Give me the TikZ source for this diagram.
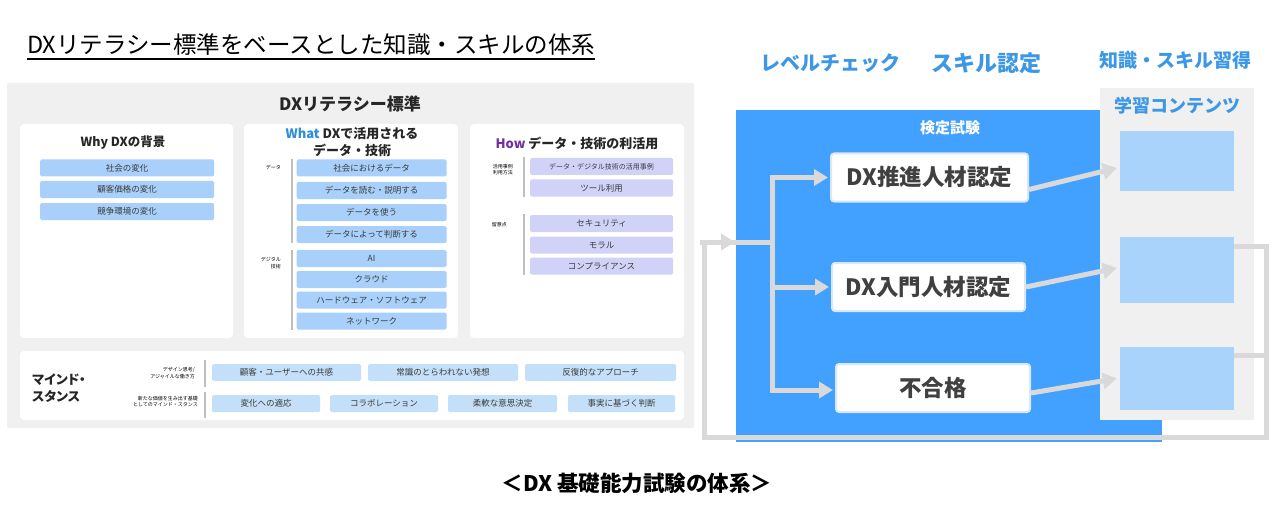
\documentclass[tikz,border=0pt]{standalone}
\usepackage{fontspec}
\setmainfont{Noto Sans CJK JP}
\usetikzlibrary{arrows.meta}
\definecolor{panelgray}{HTML}{F0F0F0}
\definecolor{itemblue}{HTML}{A8D0FA}
\definecolor{itemlav}{HTML}{D0D2F8}
\definecolor{mindblue}{HTML}{C4DFF8}
\definecolor{bigblue}{HTML}{42A0FF}
\definecolor{headblue}{HTML}{3C98E6}
\definecolor{whatblue}{HTML}{2E8ED8}
\definecolor{howpurple}{HTML}{7030A0}
\definecolor{contblue}{HTML}{A9D3FA}
\definecolor{arrowgray}{HTML}{D9D9D9}
\definecolor{bargray}{HTML}{BFBFBF}
\definecolor{itemtext}{HTML}{3A3A3A}
\definecolor{headtext}{HTML}{262626}
\definecolor{resultedge}{HTML}{D8E8F8}
\definecolor{resulttext}{HTML}{404040}
\tikzset{
  item/.style={rectangle, fill=itemblue, rounded corners=1.5pt, minimum height=17pt, inner sep=0pt, text=itemtext, font=\fontsize{8.5}{10}\selectfont},
  lavitem/.style={item, fill=itemlav},
  minditem/.style={item, fill=mindblue},
  card/.style={rectangle, fill=white, rounded corners=4pt, inner sep=0pt},
  tinylabel/.style={font=\fontsize{5}{6.2}\selectfont, align=right, text=black, inner sep=0pt, anchor=east},
  bar/.style={draw=bargray, line width=1.3pt},
  conn/.style={draw=arrowgray, line width=5pt},
  tipconn/.style={conn, -{Triangle[length=14pt,width=16pt]}},
  result/.style={rectangle, fill=white, draw=resultedge, line width=2pt, rounded corners=3pt, inner sep=0pt, text=resulttext, font=\fontsize{22.5}{22.5}\selectfont\bfseries},
  contbox/.style={rectangle, fill=contblue, inner sep=0pt},
  head/.style={text=headblue, font=\fontsize{20}{20}\selectfont\bfseries, inner sep=0pt},
  cardtitle/.style={text=headtext, inner sep=0pt, align=center},
}
\begin{document}
\begin{tikzpicture}[x=1pt,y=-1pt]
\useasboundingbox (0,0) rectangle (1275,508);
\fill[white] (0,0) rectangle (1275,508);

% ---------- title ----------
\node[anchor=west, inner sep=0pt, font=\fontsize{23.5}{23.5}\selectfont, text=black] (title) at (27,45) {DXリテラシー標準をベースとした知識・スキルの体系};
\draw[line width=1.2pt] ([yshift=-5pt]title.base west) -- ([yshift=-5pt]title.base east);

% ---------- left panel ----------
\node[rectangle, fill=panelgray, rounded corners=2pt, minimum width=687pt, minimum height=345pt, inner sep=0pt] (panel) at (350.5,255.5) {};
\node[cardtitle, font=\fontsize{17}{17}\selectfont\bfseries] (paneltitle) at (350,104) {DXリテラシー標準};

\node[card, minimum width=213pt, minimum height=214pt] (whycard) at (126.5,231) {};
\node[card, minimum width=214pt, minimum height=214pt] (whatcard) at (351,231) {};
\node[card, minimum width=214pt, minimum height=214pt] (howcard) at (577,231) {};
\node[card, minimum width=664pt, minimum height=69pt] (mindcard) at (352,385.5) {};

% Why
\node[cardtitle, font=\fontsize{12.5}{12.5}\selectfont\bfseries] (whyT) at (123,143) {Why DXの背景};
\node[item, minimum width=174pt] (w1) at (127,168) {社会の変化};
\node[item, minimum width=174pt] (w2) at (127,189.5) {顧客価格の変化};
\node[item, minimum width=174pt] (w3) at (127,211.5) {競争環境の変化};

% What
\node[cardtitle, font=\fontsize{13}{17}\selectfont\bfseries] (whatT) at (352,142.5) {\textcolor{whatblue}{What} DXで活用される\\データ・技術};
\node[tinylabel] (lData) at (281,168) {データ};
\node[tinylabel] (lDig) at (281,263) {デジタル\\技術};
\draw[bar] (292,159) -- (292,243);
\draw[bar] (292,250) -- (292,330);
\node[item, minimum width=150pt] (d1) at (371.5,168) {社会におけるデータ};
\node[item, minimum width=150pt] (d2) at (371.5,190.5) {データを読む・説明する};
\node[item, minimum width=150pt] (d3) at (371.5,212.5) {データを使う};
\node[item, minimum width=150pt] (d4) at (371.5,234.5) {データによって判断する};
\node[item, minimum width=150pt] (t1) at (371.5,258.5) {AI};
\node[item, minimum width=150pt] (t2) at (371.5,279.5) {クラウド};
\node[item, minimum width=150pt] (t3) at (371.5,300) {ハードウェア・ソフトウェア};
\node[item, minimum width=150pt] (t4) at (371.5,321) {ネットワーク};

% How
\node[cardtitle, font=\fontsize{13}{13}\selectfont\bfseries] (howT) at (577,143) {\textcolor{howpurple}{How} データ・技術の利活用};
\node[tinylabel] (lUse) at (513,170) {活用事例\\利用方法};
\node[tinylabel] (lCare) at (507,225) {留意点};
\draw[bar] (524,157) -- (524,197);
\draw[bar] (524,214) -- (524,275);
\node[lavitem, minimum width=143pt, font=\fontsize{7}{8}\selectfont] (h1) at (601.5,166.5) {データ・デジタル技術の活用事例};
\node[lavitem, minimum width=143pt] (h2) at (601.5,188) {ツール利用};
\node[lavitem, minimum width=143pt] (h3) at (601.5,223.5) {セキュリティ};
\node[lavitem, minimum width=143pt] (h4) at (601.5,245) {モラル};
\node[lavitem, minimum width=143pt] (h5) at (601.5,266) {コンプライアンス};

% Mind / stance
\node[cardtitle, font=\fontsize{13}{17}\selectfont\bfseries\addfontfeature{RawFeature=+palt}, align=left, anchor=west] (mindT) at (32,388) {マインド・\\スタンス};
\node[tinylabel] (lDesign) at (195,373) {デザイン思考/\\アジャイルな働き方};
\node[tinylabel] (lNew) at (198,401.5) {新たな価値を生み出す基礎\\としてのマインド・スタンス};
\draw[bar] (205,360) -- (205,387);
\draw[bar] (205,392) -- (205,418);
\node[minditem, minimum width=149pt] (m1) at (286.5,372.5) {顧客・ユーザーへの共感};
\node[minditem, minimum width=150pt] (m2) at (443,372.5) {常識のとらわれない発想};
\node[minditem, minimum width=151pt] (m3) at (600.5,372.5) {反復的なアプローチ};
\node[minditem, minimum width=108pt] (s1) at (266,403.5) {変化への適応};
\node[minditem, minimum width=108pt] (s2) at (384,403.5) {コラボレーション};
\node[minditem, minimum width=109pt] (s3) at (502.5,403.5) {柔軟な意思決定};
\node[minditem, minimum width=107pt] (s4) at (621.5,403.5) {事実に基づく判断};

% ---------- right part ----------
\node[head] (hLevel) at (830,63) {レベルチェック};
\node[head, font=\fontsize{22}{22}\selectfont\bfseries] (hSkill) at (986,63) {スキル認定};
\node[head, font=\fontsize{19}{19}\selectfont\bfseries] (hKnow) at (1175,60) {知識・スキル習得};

\node[rectangle, fill=bigblue, inner sep=0pt, minimum width=426pt, minimum height=332pt] (exam) at (949,276) {};
\node[text=white, font=\fontsize{15}{15}\selectfont\bfseries, inner sep=0pt] (examT) at (950,128) {検定試験};

\node[rectangle, fill=panelgray, inner sep=0pt, minimum width=154pt, minimum height=332pt] (contpanel) at (1177,254) {};
\node[head, font=\fontsize{18}{18}\selectfont\bfseries] (contT) at (1177,106) {学習コンテンツ};
\node[contbox, minimum width=114pt, minimum height=60pt] (c1) at (1177,161) {};
\node[contbox, minimum width=114pt, minimum height=66pt] (c2) at (1177,270) {};
\node[contbox, minimum width=114pt, minimum height=63pt] (c3) at (1177,378.5) {};

\node[result, minimum width=197pt, minimum height=48pt] (n1) at (929.5,177.5) {DX推進人材認定};
\node[result, minimum width=193pt, minimum height=48pt] (n2) at (928.5,287) {DX入門人材認定};
\node[result, minimum width=194pt, minimum height=48pt] (n3) at (933,388) {不合格};

% connectors
\coordinate (tTop) at (772,177.5);
\coordinate (tMid) at (772,242);
\coordinate (tBot) at (772,390);
\coordinate (lTop) at (704,242);
\coordinate (entryTip) at (735,242);
\coordinate (lBot) at (704,437);
\coordinate (rBot) at (1266,437);
\coordinate (rTop) at (1266,246);
\coordinate (rStub) at (1266,355);

\draw[conn] ([yshift=24pt]c2.east) -- (rTop) -- (rBot) -- (lBot) -- (lTop) -- (tMid);
\draw[conn] ([yshift=23.5pt]c3.east) -- (rStub);
\draw[tipconn] ([xshift=-4pt]lTop) -- (entryTip);
\draw[conn] ([yshift=2.5pt]tTop) -- ([yshift=-2.5pt]tBot);
\draw[tipconn, shorten >=2pt] (tTop) -- (n1.west);
\draw[tipconn, shorten >=2pt] (tMid |- n2.west) -- (n2.west);
\draw[tipconn, shorten >=2pt] (tBot) -- (tBot -| n3.west);
\draw[tipconn] ([yshift=-12pt]n1.east) -- ([xshift=-3pt,yshift=-7pt]c1.west);
\draw[tipconn] (n2.east) -- ([xshift=-3pt,yshift=2pt]c2.west);
\draw[tipconn] ([yshift=-5pt]n3.east) -- ([xshift=-3pt]c3.west);

% caption
\node[inner sep=0pt, font=\fontsize{21.5}{21.5}\selectfont\bfseries, text=black] (caption) at (637,483) {＜DX 基礎能力試験の体系＞};
\end{tikzpicture}
\end{document}
